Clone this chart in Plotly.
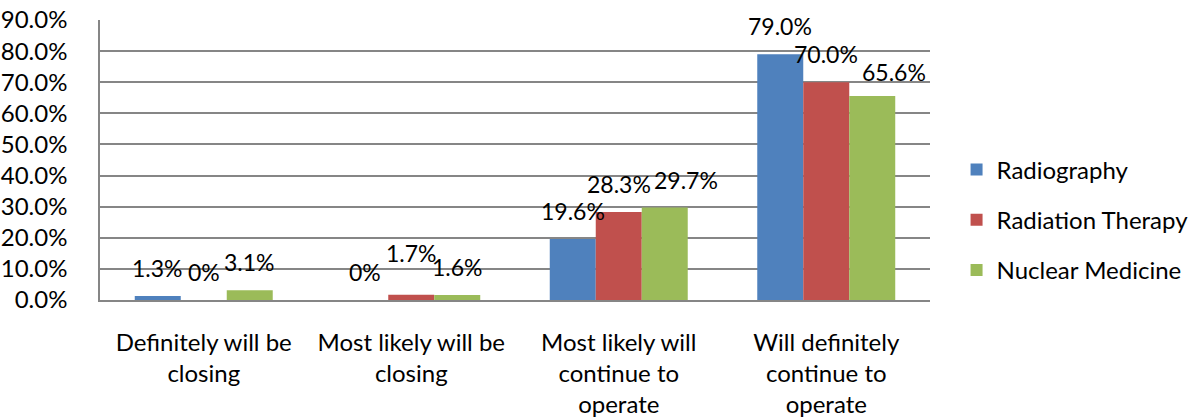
import plotly.graph_objects as go

categories = ["Definitely will be<br>closing", "Most likely will be<br>closing",
              "Most likely will<br>continue to<br>operate", "Will definitely<br>continue to<br>operate"]
series_names = ["Radiography", "Radiation Therapy", "Nuclear Medicine"]
radiography = [1.3, 0.0, 19.6, 79.0]
radiation_therapy = [0.0, 1.7, 28.3, 70.0]
nuclear_medicine = [3.1, 1.6, 29.7, 65.6]
colors = ["#4F81BD", "#C0504D", "#9BBB59"]
tick_vals = [0, 10, 20, 30, 40, 50, 60, 70, 80, 90]

FONT = "Lato"
FS = 24
FS_LABEL = 23

# manual data-label nudges (series index, category index) -> (dx px, dy px)
label_nudges = {(1, 1): (0, 14), (2, 2): (21, 0), (2, 3): (22, -4)}

def fmt(v):
    return "0%" if v == 0 else f"{v:.1f}%"

W, H = 1196, 419
ML, MR, MT, MB = 100, 266, 20, 119
plot_w = W - ML - MR
bargap = 0.335
bar_px = plot_w / len(categories) * (1 - bargap) / 3

fig = go.Figure()
all_series = [radiography, radiation_therapy, nuclear_medicine]
for i, (name, vals) in enumerate(zip(series_names, all_series)):
    fig.add_trace(go.Bar(x=categories, y=vals, name=name, marker_color=colors[i],
                         marker_line_width=0, legendgroup=name))
    for j, (c, v) in enumerate(zip(categories, vals)):
        dx, dy = label_nudges.get((i, j), (0, 0))
        fig.add_annotation(x=c, y=v, text=fmt(v), showarrow=False, xref="x", yref="y",
                           xshift=(i - 1) * bar_px + dx, yshift=12 + dy, yanchor="bottom",
                           font=dict(family=FONT, size=FS_LABEL, color="#000000"))

fig.update_layout(
    width=W, height=H,
    margin=dict(l=ML, r=MR, t=MT, b=MB, autoexpand=False),
    plot_bgcolor="white", paper_bgcolor="white",
    barmode="group", bargap=bargap, bargroupgap=0,
    font=dict(family=FONT, size=FS, color="#000000"),
    legend=dict(x=1.032, y=0.2857, xanchor="left", yanchor="middle",
                font=dict(family=FONT, size=FS), tracegroupgap=16,
                itemwidth=30, bgcolor="rgba(0,0,0,0)"),
    showlegend=True,
)
fig.update_xaxes(showline=True, linecolor="#868686", linewidth=1.5, ticks="",
                 ticklabelstandoff=20, tickfont=dict(family=FONT, size=FS))
fig.update_yaxes(range=[0, 90], tickvals=tick_vals,
                 ticktext=[f"{t:.1f}%" for t in tick_vals],
                 showgrid=True, gridcolor="#868686", gridwidth=1.5,
                 showline=True, linecolor="#868686", linewidth=1.5,
                 zeroline=False, ticks="", ticklabelstandoff=26,
                 tickfont=dict(family=FONT, size=FS))

fig.write_html("out.html", config={"displayModeBar": False},
               post_script="document.body.style.margin='0';document.body.style.overflow='hidden';")
